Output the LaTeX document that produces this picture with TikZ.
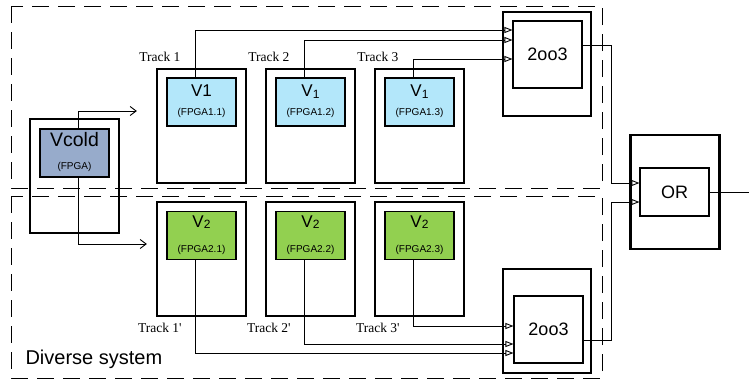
\documentclass[tikz,border=0pt]{standalone}
\usepackage{fontspec}
\setmainfont{Liberation Sans}
\newfontfamily\trackfont{Liberation Serif}
\usetikzlibrary{arrows.meta}
\definecolor{coldfill}{HTML}{97ABCB}
\definecolor{vonefill}{HTML}{B3E7FA}
\definecolor{vtwofill}{HTML}{92D050}
\newcommand{\vsub}[1]{V\raisebox{-1.5pt}{\fontsize{12}{12}\selectfont #1}}

\begin{document}
\begin{tikzpicture}[x=1pt, y=-1pt,
    outer/.style={draw, line width=2.2pt, minimum width=89pt, minimum height=114pt, inner sep=0pt},
    votebox/.style={draw, line width=2.2pt, minimum width=88pt, minimum height=104pt, inner sep=0pt},
    inbox/.style={draw, line width=1.1pt, minimum width=69pt, minimum height=48pt, inner sep=0pt},
    gate/.style={draw, line width=1.1pt, minimum width=69pt, minimum height=67pt, inner sep=0pt,
      font=\fontsize{18}{18}\selectfont},
    zone/.style={dash pattern=on 17pt off 9pt, line width=0.9pt},
    wire/.style={line width=0.9pt},
    tri/.style={wire, -{Triangle[open, length=8pt, width=6pt]}},
    barb/.style={wire, -{Straight Barb[length=6pt, width=9pt]}},
    tracklbl/.style={font=\trackfont\fontsize{13.5}{13.5}\selectfont, anchor=base},
    bigname/.style={font=\fontsize{17}{17}\selectfont, anchor=base},
    chipname/.style={font=\fontsize{10}{10}\selectfont, anchor=base}]
  \useasboundingbox (0,0) rectangle (749,380);

  % the two dashed regions
  \draw[zone] (11,6) rectangle (602,188);
  \draw[zone] (11,196) rectangle (602,378);
  \node[font=\fontsize{20}{20}\selectfont, anchor=base west] (divlbl) at (22,364) {Diverse system};

  % Vcold
  \node[outer] (coldbox) at (74.5,176) {};
  \node[inbox, fill=coldfill] (cold) at (74.5,153) {};
  \node[font=\fontsize{19.5}{19.5}\selectfont, anchor=base] (coldname) at ([yshift=-17.7pt]cold.north) {Vcold};
  \node[chipname] (coldchip) at ([yshift=-41.5pt]cold.north) {(FPGA)};

  % tracks
  \foreach \i in {1,2,3}
    {\pgfmathsetmacro\cx{201.5+109*(\i-1)}
     \node[outer] (pt\i) at (\cx,126) {};
     \node[inbox, fill=vonefill] (p\i) at (\cx,102) {};
     \node[bigname] (pn\i) at ([yshift=-19.3pt]p\i.north) {\ifnum\i=1 V1\else\vsub{1}\fi};
     \node[chipname] (pf\i) at ([yshift=-37.7pt]p\i.north) {(FPGA1.\i)};
     \node[tracklbl] (ptl\i) at ([xshift=4pt,yshift=6pt]pt\i.north west) {Track \i};
     \node[outer] (st\i) at (\cx,259) {};
     \node[inbox, fill=vtwofill] (s\i) at (\cx,235.5) {};
     \node[bigname] (sn\i) at ([yshift=-16.3pt]s\i.north) {\vsub{2}};
     \node[chipname] (sf\i) at ([yshift=-41.5pt]s\i.north) {(FPGA2.\i)};
     \node[tracklbl] (stl\i) at ([xshift=4pt,yshift=-15pt]st\i.south west) {Track \i\textquotesingle};
    }

  % voters and OR
  \node[votebox] (vpbox) at (547,64) {};
  \node[gate] (vp) at (547.5,54.5) {2oo3};
  \node[votebox] (vsbox) at (547,321) {};
  \node[gate] (vs) at (548.5,329.5) {2oo3};
  \node[outer] (orbox) at (675,192) {};
  \node[inbox, font=\fontsize{18}{18}\selectfont] (orgate) at (674.5,192) {OR};
  \coordinate (sysout) at (749,192);

  % connections
  \draw[barb] ([xshift=3.5pt]cold.north) |- ([xshift=-19pt,yshift=15pt]pt1.west);
  \draw[barb] ([xshift=3.5pt]cold.south) |- ([xshift=-9pt,yshift=15pt]st1.west);
  \foreach \i/\s in {1/24.5, 2/14.5, 3/-4.5}
    \draw[tri] ([xshift=-6pt]p\i.north) |- ([yshift=\s pt]vp.west);
  \foreach \i/\s in {1/-23.5, 2/-14.5, 3/3.5}
    \draw[tri] ([xshift=-6pt]s\i.south) |- ([yshift=\s pt]vs.west);
  \draw[tri] ([yshift=9.5pt]vp.east) -- ++(29,0) |- ([yshift=9pt]orgate.west);
  \draw[tri] ([yshift=-10.5pt]vs.east) -- ++(28,0) |- ([yshift=-10pt]orgate.west);
  \draw[wire] (orgate.east) -- (sysout);
\end{tikzpicture}
\end{document}
